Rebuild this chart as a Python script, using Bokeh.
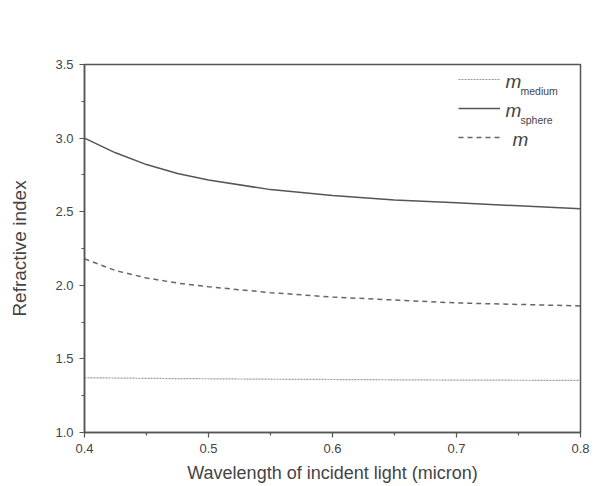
from bokeh.plotting import figure
from bokeh.models import Legend, LegendItem, Label, Range1d, FixedTicker, NumeralTickFormatter
from bokeh.embed import file_html
from bokeh.resources import INLINE

wavelength = [0.40, 0.425, 0.45, 0.475, 0.50, 0.55, 0.60, 0.65, 0.70, 0.75, 0.80]
m_sphere = [3.00, 2.90, 2.82, 2.76, 2.715, 2.65, 2.61, 2.58, 2.56, 2.54, 2.52]
m_ratio = [2.18, 2.10, 2.05, 2.015, 1.99, 1.95, 1.92, 1.90, 1.88, 1.87, 1.86]
m_medium = [1.372, 1.370, 1.368, 1.366, 1.365, 1.362, 1.360, 1.358, 1.356, 1.355, 1.354]

x_ticks = [0.4, 0.5, 0.6, 0.7, 0.8]
y_ticks = [1.0, 1.5, 2.0, 2.5, 3.0, 3.5]

FONT = "Liberation Sans"
TXT = "#444444"

p = figure(width=596, height=486, output_backend="svg", toolbar_location=None,
           x_range=Range1d(0.4, 0.8), y_range=Range1d(1.0, 3.5),
           min_border_left=84, min_border_right=16, min_border_top=64, min_border_bottom=54)
p.background_fill_color = "white"
p.border_fill_color = "white"
p.grid.visible = False
p.outline_line_color = "#555555"
p.outline_line_width = 1.5

r_med = p.line(wavelength, m_medium, line_color="#9a9a9a", line_width=1.2, line_dash="2 1")
r_sph = p.line(wavelength, m_sphere, line_color="#555555", line_width=1.5)
r_m = p.line(wavelength, m_ratio, line_color="#666666", line_width=1.5, line_dash="5 4")

for ax in (p.xaxis[0], p.yaxis[0]):
    ax.axis_line_color = "#555555"
    ax.axis_line_width = 1.5
    ax.major_tick_line_color = "#555555"
    ax.minor_tick_line_color = "#555555"
    ax.major_tick_line_width = 1.2
    ax.minor_tick_line_width = 1.2
    ax.major_tick_out = 5
    ax.major_tick_in = 0
    ax.minor_tick_out = 3
    ax.minor_tick_in = 0
    ax.major_label_text_font = FONT
    ax.major_label_text_font_size = "13px"
    ax.major_label_text_color = TXT
    ax.axis_label_text_font = FONT
    ax.axis_label_text_font_style = "normal"
    ax.axis_label_text_color = TXT
    ax.formatter = NumeralTickFormatter(format="0.0")

p.xaxis.axis_label_text_font_size = "18px"
p.yaxis.axis_label_text_font_size = "19px"
p.xaxis.ticker = FixedTicker(ticks=x_ticks, minor_ticks=[0.45, 0.55, 0.65, 0.75])
p.yaxis.ticker = FixedTicker(ticks=y_ticks, minor_ticks=[1.25, 1.75, 2.25, 2.75, 3.25])
p.xaxis.axis_label = "Wavelength of incident light (micron)"
p.yaxis.axis_label = "Refractive index"
p.xaxis.major_label_standoff = 6
p.xaxis.axis_label_standoff = 7
p.yaxis.major_label_standoff = 6
p.yaxis.axis_label_standoff = 22

legend = Legend(items=[LegendItem(label=" ", renderers=[r_med]),
                       LegendItem(label=" ", renderers=[r_sph]),
                       LegendItem(label=" ", renderers=[r_m])],
                location=(374, 285), glyph_width=42, glyph_height=20, spacing=9,
                padding=0, margin=0, label_standoff=0, label_width=0,
                label_text_font_size="8px",
                border_line_color=None, background_fill_alpha=0)
p.add_layout(legend)

FL, FB = 84, 432  # frame left / bottom in canvas pixels
names = [("m", "medium", 505, 81), ("m", "sphere", 505, 110), ("m", "", 512, 139)]
for main, sub, xs, ys in names:
    p.add_layout(Label(x=xs - FL, y=FB - ys, x_units="screen", y_units="screen", text=main,
                       text_font=FONT, text_font_style="italic", text_font_size="19px",
                       text_color=TXT, text_baseline="middle"))
    if sub:
        p.add_layout(Label(x=xs - FL + 15, y=FB - ys - 9, x_units="screen", y_units="screen",
                           text=sub, text_font=FONT, text_font_size="10.5px",
                           text_color=TXT, text_baseline="middle"))

open("out.html", "w").write(file_html(p, INLINE))
